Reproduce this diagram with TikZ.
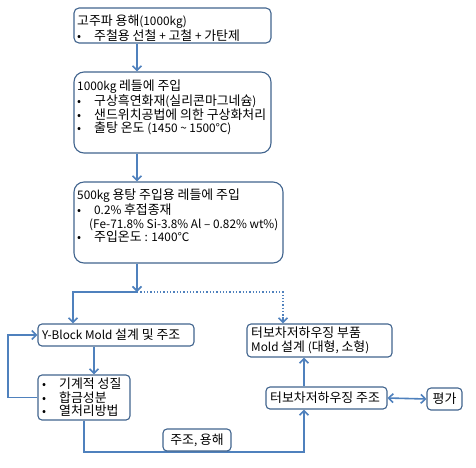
\documentclass[tikz,border=0pt]{standalone}
\usepackage{fontspec}
\setmainfont{Noto Sans CJK KR}
\usetikzlibrary{arrows.meta}
\definecolor{linec}{HTML}{4F81BD}
\definecolor{boxc}{HTML}{41648E}
% larger size for Hangul syllables, smaller for Latin
\XeTeXinterchartokenstate=1
\newXeTeXintercharclass\HangulCls
\newcount\hcnt \hcnt="AC00
\loop\XeTeXcharclass\hcnt=\HangulCls\ifnum\hcnt<"D7A3 \advance\hcnt by 1 \repeat
\newcommand{\HangulOn}{\fontsize{12.9pt}{13.5pt}\selectfont}
\newcommand{\HangulOff}{\fontsize{11.8pt}{13.5pt}\selectfont}
\XeTeXinterchartoks 0 \HangulCls = {\HangulOn}
\XeTeXinterchartoks 4095 \HangulCls = {\HangulOn}
\XeTeXinterchartoks \HangulCls 0 = {\HangulOff}
\XeTeXinterchartoks 4095 0 = {\HangulOff}
\tikzset{
  box/.style={draw=boxc, line width=1.1pt, fill=white, inner sep=0pt},
  txt/.style={anchor=north west, inner sep=0pt, align=left, font=\fontsize{11.8pt}{13.5pt}\selectfont},
  conn/.style={draw=linec, line width=1.6pt},
  arr/.style={conn, -{Straight Barb[length=4.5pt,width=9pt,line width=1.6pt]}},
  dotl/.style={draw=linec, line width=1.3pt, dotted}
}
\newcommand{\bl}{\makebox[17pt][l]{•}}
\begin{document}
\begin{tikzpicture}[x=1pt,y=-1pt]
\useasboundingbox[fill=white] (0,0) rectangle (476,467);
% coordinates
\coordinate (j) at (137,292);
\coordinate (jl) at (73,292);
\coordinate (jr) at (283,292);
\coordinate (c1) at (94,0);
\coordinate (lp) at (8,0);
\coordinate (c2) at (304,452);
% boxes
\node[box, rounded corners=5pt, minimum width=197pt, minimum height=35pt] (b1) at (172.5,25.5) {};
\node[box, rounded corners=10pt, minimum width=197pt, minimum height=81pt] (b2) at (172.5,112.5) {};
\node[box, rounded corners=10pt, minimum width=209pt, minimum height=81pt] (b3) at (178.5,222.5) {};
\node[box, rounded corners=4pt, minimum width=156pt, minimum height=22pt] (yb) at (116,335) {};
\node[box, rounded corners=4pt, minimum width=145pt, minimum height=33pt] (td) at (319.5,340.5) {};
\node[box, rounded corners=4pt, minimum width=92pt, minimum height=45pt] (bx) at (84,397.5) {};
\node[box, rounded corners=4pt, minimum width=121pt, minimum height=22pt] (tc) at (326.5,398) {};
\node[box, rounded corners=4pt, minimum width=35pt, minimum height=22pt] (ev) at (444.5,399) {};
% texts
\node[txt] (t1) at (77,15) {고주파 용해(1000kg)\\\bl 주철용 선철 + 고철 + 가탄제};
\node[txt] (t2) at (77,80) {1000kg 레들에 주입\\\bl 구상흑연화재(실리콘마그네슘)\\\bl 샌드위치공법에 의한 구상화처리\\\bl 출탕 온도 (1450 \textasciitilde{} 1500℃)};
\node[txt] (t3) at (77,189) {500kg 용탕 주입용 레들에 주입\\\bl 0.2\% 후접종재\\\hspace{12pt}(Fe-71.8\% Si-3.8\% Al – 0.82\% wt\%)\\\bl 주입온도 : 1400℃};
\node[txt, anchor=west] (t4) at (42,335) {Y-Block Mold 설계 및 주조};
\node[txt] (t5) at (251,327) {터보차저하우징 부품\\Mold 설계 (대형, 소형)};
\node[txt] (t6) at (42,378) {\bl 기계적 성질\\\bl 합금성분\\\bl 열처리방법};
\node[txt, anchor=west] (t7) at (270,398) {터보차저하우징 주조};
\node[txt, anchor=center] (t8) at (ev.center) {평가};
% connectors
\draw[arr] (j |- b1.south) -- (j |- b2.north);
\draw[arr] (j |- b2.south) -- (j |- b3.north);
\draw[arr] (j |- b3.south) -- (j);
\draw[arr] (j) -- (jl) -- (jl |- yb.north);
\draw[dotl] (j) -- (jr) -- ([yshift=6pt]jr |- td.north);
\draw[conn, -{Straight Barb[length=4.5pt,width=9pt,line width=1.6pt]}] ([yshift=6pt]jr |- td.north) -- (jr |- td.north);
\draw[arr] (c1 |- yb.south) -- (c1 |- bx.north);
\draw[arr] (bx.west) -- (lp |- bx.west) -- (lp |- yb.west) -- (yb.west);
\draw[arr] (bx.south) -- (bx.south |- c2) -- (c2) -- (c2 |- tc.south);
\draw[arr] (c2 |- tc.north) -- (c2 |- td.south);
\draw[conn, {Straight Barb[length=4.5pt,width=9pt,line width=1.6pt]}-{Straight Barb[length=4.5pt,width=9pt,line width=1.6pt]}] (tc.east) -- (ev.west);
\node[box, rounded corners=4pt, minimum width=68pt, minimum height=22pt] (mh) at (197,440) {};
\node[txt, anchor=center] (t9) at (mh.center) {주조, 용해};
\end{tikzpicture}
\end{document}
